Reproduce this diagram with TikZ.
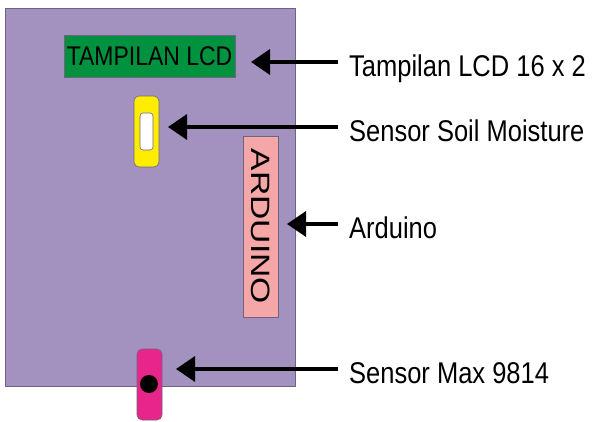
\documentclass[tikz,border=0pt]{standalone}
\usepackage{fontspec}
\setmainfont{Liberation Sans}
\newfontfamily\narrowfont[FakeStretch=0.85]{Liberation Sans}
\newfontfamily\widefont[FakeStretch=1.27]{Liberation Sans}
\usepackage{xcolor}
\definecolor{boardfill}{HTML}{A391BF}
\definecolor{lcdgreen}{HTML}{00923F}
\definecolor{soilyellow}{HTML}{FFED00}
\definecolor{ardpink}{HTML}{F5A6A6}
\definecolor{micpink}{HTML}{E8258A}
\definecolor{edge}{HTML}{6E6480}
\usepackage{tikz}
\usetikzlibrary{arrows.meta}

\begin{document}
\begin{tikzpicture}[x=1pt,y=1pt,
  part/.style={rectangle,draw=edge,line width=0.6pt,inner sep=0pt,outer sep=0pt,align=center},
  lbl/.style={anchor=west,inner xsep=11pt,inner ysep=0pt,text height=29pt,text depth=0pt,
    font=\narrowfont\fontsize{30}{30}\selectfont},
  ptr/.style={-{Triangle[length=19pt,width=25pt]},line width=3.5pt,black}]
  \useasboundingbox (0,0) rectangle (592,421);
  \node[part,fill=boardfill,minimum width=290pt,minimum height=378pt] (board) at (150,224) {};
  \node[part,fill=lcdgreen,minimum width=171pt,minimum height=42pt,
    font=\narrowfont\fontsize{27}{27}\selectfont] (lcd) at (149.5,365) {TAMPILAN LCD};
  \node[part,fill=soilyellow,rounded corners=5pt,minimum width=25pt,minimum height=71pt] (soil) at (146.5,289.5) {};
  \node[part,fill=white,rounded corners=3pt,minimum width=13pt,minimum height=37pt] (probe) at (146.5,289.5) {};
  \node[part,fill=ardpink,rotate=-90,minimum width=181pt,minimum height=35pt,
    font=\widefont\fontsize{26.5}{26.5}\selectfont] (arduino) at (260.5,194.5) {ARDUINO};
  \node[part,fill=micpink,rounded corners=5pt,minimum width=25pt,minimum height=71pt] (mic) at (149.5,36.5) {};
  \node[circle,fill=black,minimum size=18pt,inner sep=0pt] (micdot) at (149,37) {};
  \node[lbl] (lcdlbl) at (338,359) {Tampilan LCD 16 x 2};
  \node[lbl] (soillbl) at (338,294) {Sensor Soil Moisture};
  \node[lbl] (ardlbl) at (338,197) {Arduino};
  \node[lbl] (miclbl) at (338,52) {Sensor Max 9814};
  \draw[ptr,shorten >=16pt] (lcdlbl.west) -- (lcdlbl.west -| lcd.east);
  \draw[ptr,shorten >=9pt] (soillbl.west) -- (soillbl.west -| soil.east);
  \draw[ptr,shorten >=9pt] (ardlbl.west) -- (ardlbl.west -| arduino.north);
  \draw[ptr,shorten >=14pt] (miclbl.west) -- (miclbl.west -| mic.east);
\end{tikzpicture}
\end{document}
